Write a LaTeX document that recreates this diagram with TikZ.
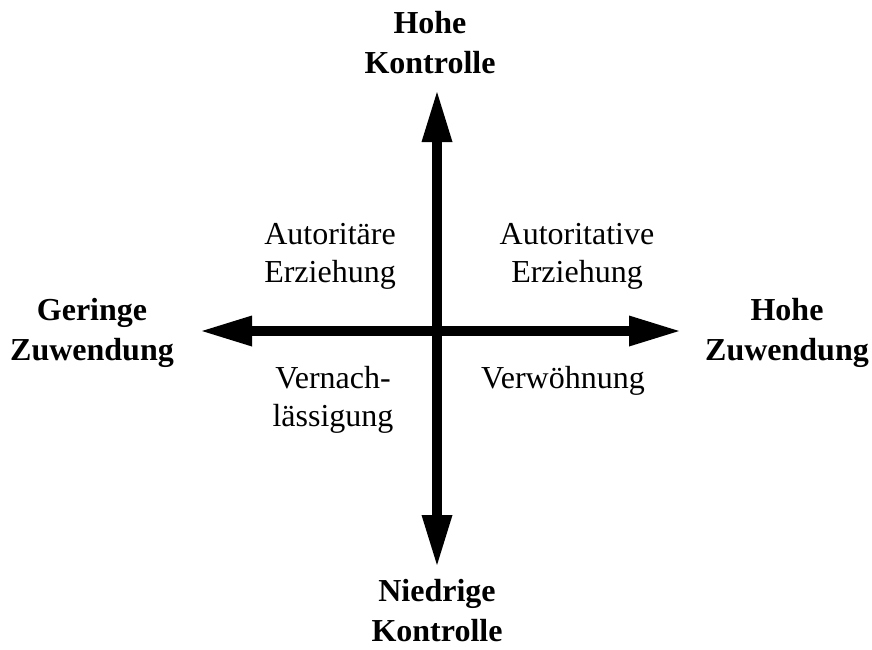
\documentclass[tikz,border=0pt]{standalone}
\usepackage{fontspec}
\setmainfont{Liberation Serif}
\usetikzlibrary{arrows.meta}

\tikzset{
  axis/.style={line width=10pt, draw=black,
    {Triangle[length=50pt,width=31pt,line width=0pt]}-{Triangle[length=50pt,width=31pt,line width=0pt]}},
  pole/.style={font=\fontsize{32}{40}\selectfont\bfseries, align=center, inner sep=0pt},
  quadrant/.style={font=\fontsize{32}{38}\selectfont, align=center, inner sep=0pt},
}

\begin{document}
\begin{tikzpicture}[x=1pt,y=-1pt]
  \useasboundingbox (0,0) rectangle (872,649);

  % end points of the two axes
  \coordinate (top) at (437,92);
  \coordinate (bottom) at (437,565);
  \coordinate (left) at (202,331);
  \coordinate (right) at (679,331);

  \draw[axis] (bottom) -- (top);
  \draw[axis] (left) -- (right);

  % axis labels
  \node[pole] (hk) at (430,43) {Hohe\\Kontrolle};
  \node[pole] (nk) at (437,611) {Niedrige\\Kontrolle};
  \node[pole] (gz) at (92,333) {Geringe\\Zuwendung};
  \node[pole] (hz) at (787,333) {Hohe\\Zuwendung};

  % quadrant labels
  \node[quadrant] (q1) at (330,256) {Autoritäre\\Erziehung};
  \node[quadrant] (q2) at (577,256) {Autoritative\\Erziehung};
  \node[quadrant] (q3) at (333,400) {Vernach-\\lässigung};
  \node[quadrant, anchor=base] (q4) at (563,388) {Verwöhnung};
\end{tikzpicture}
\end{document}
